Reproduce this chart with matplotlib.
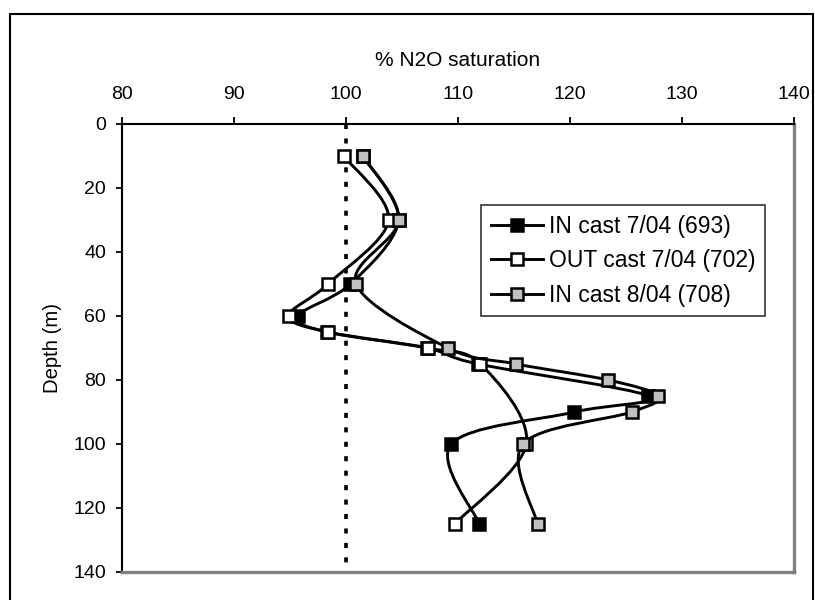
import numpy as np
import matplotlib.pyplot as plt
from matplotlib.path import Path
from matplotlib.patches import PathPatch, Rectangle
from matplotlib.lines import Line2D

plt.rcParams['font.family'] = ['Liberation Sans', 'DejaVu Sans']

# Perfis de saturação de N2O (%) por profundidade (m)
depth_in_0704 = [10, 30, 50, 60, 65, 70, 75, 85, 90, 100, 125]
sat_in_0704 = [101.5, 104.7, 100.4, 95.7, 98.3, 107.2, 111.8, 127.0, 120.4, 109.4, 111.9]

depth_out_0704 = [10, 30, 50, 60, 65, 70, 75, 100, 125]
sat_out_0704 = [99.8, 103.8, 98.4, 94.9, 98.4, 107.3, 112.0, 116.1, 109.7]

depth_in_0804 = [10, 30, 50, 70, 75, 80, 85, 90, 100, 125]
sat_in_0804 = [101.5, 104.7, 100.9, 109.1, 115.2, 123.4, 127.9, 125.5, 115.8, 117.1]

labels = ['IN cast 7/04 (693)', 'OUT cast 7/04 (702)', 'IN cast 8/04 (708)']
faces = ['black', 'white', '#c0c0c0']


# curva suavizada (bezier cúbica) passando pelos pontos
def smooth_path(xs, ys, t=1/6):
    pts = np.column_stack([xs, ys]).astype(float)
    n = len(pts)
    verts = [pts[0]]
    codes = [Path.MOVETO]
    for i in range(n - 1):
        p0 = pts[i - 1] if i > 0 else pts[i]
        p1 = pts[i]
        p2 = pts[i + 1]
        p3 = pts[i + 2] if i + 2 < n else pts[i + 1]
        c1 = p1 + (p2 - p0) * t
        c2 = p2 - (p3 - p1) * t
        verts += [c1, c2, p2]
        codes += [Path.CURVE4] * 3
    return Path(verts, codes)


fig = plt.figure(figsize=(8.15, 6), dpi=100)
ax = fig.add_axes([122/815, 1 - 572/600, 672/815, 448/600])

series = [(sat_in_0704, depth_in_0704), (sat_out_0704, depth_out_0704), (sat_in_0804, depth_in_0804)]

# linha de 100% de saturação
ax.plot([100, 100], [0, 140], color='black', lw=2.6, linestyle=(0, (1.4, 2.6)), zorder=1)

for i, (x, y) in enumerate(series):
    ax.add_patch(PathPatch(smooth_path(x, y), facecolor='none', edgecolor='black', lw=2.1, zorder=2 + i))
    ax.plot(x, y, linestyle='none', marker='s', markersize=8.5, markerfacecolor=faces[i],
            markeredgecolor='black', markeredgewidth=1.8, zorder=2.5 + i)

ax.set_xlim(80, 140)
ax.set_ylim(140, 0)
ax.set_xticks(np.arange(80, 141, 10))
ax.set_yticks(np.arange(0, 141, 20))

ax.xaxis.tick_top()
ax.xaxis.set_label_position('top')
ax.tick_params(axis='x', direction='out', length=5, width=1.3, pad=10, labelsize=14)
ax.tick_params(axis='y', direction='out', length=4.5, width=1.3, pad=7, labelsize=14)

ax.set_xlabel('% N2O saturation', fontsize=15, va='center')
ax.xaxis.set_label_coords(0.5, (572 - 60) / 448)
ax.set_ylabel('Depth (m)', fontsize=14.6, va='center')
ax.yaxis.set_label_coords(-70 / 672, 0.5)

for side in ['top', 'left']:
    ax.spines[side].set_color('black')
    ax.spines[side].set_linewidth(1.5)
for side in ['bottom', 'right']:
    ax.spines[side].set_color('#808080')
    ax.spines[side].set_linewidth(2.4)

handles = [Line2D([0], [0], color='black', lw=2.1, marker='s', markersize=8.5,
                  markerfacecolor=faces[i], markeredgecolor='black', markeredgewidth=1.8)
           for i in range(3)]
leg = ax.legend(handles, labels, loc='upper left', bbox_to_anchor=(481/815, 1 - 205/600),
                bbox_transform=fig.transFigure, fontsize=16.5, frameon=True, fancybox=False,
                handlelength=2.3, handletextpad=0.25, labelspacing=0.5, borderpad=0.42,
                borderaxespad=0)
leg.get_frame().set_edgecolor('black')
leg.get_frame().set_linewidth(1.2)

# moldura externa do gráfico
fig.patches.append(Rectangle((10/815, -0.01), 803/815, 1 - 14/600 + 0.01, transform=fig.transFigure,
                             fill=False, edgecolor='black', lw=1.5))

fig.savefig('out.png', dpi=100)
